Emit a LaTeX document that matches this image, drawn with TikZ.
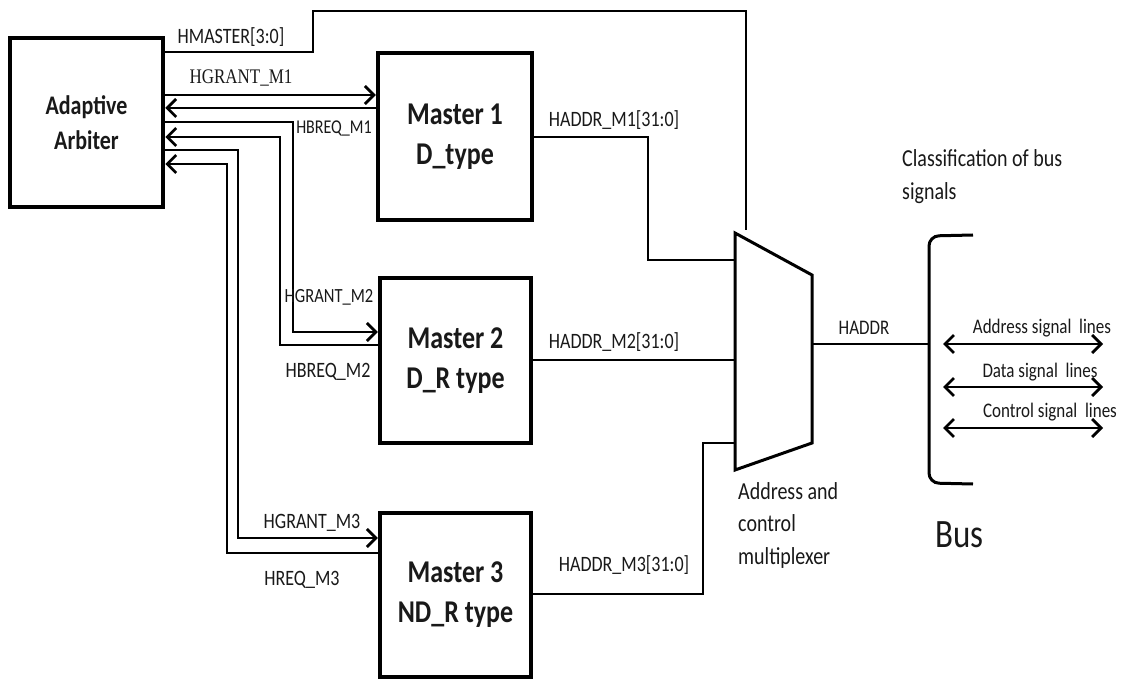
\documentclass[tikz,border=0pt]{standalone}
\usepackage{fontspec}
\setmainfont{Carlito}
\newfontfamily\serifl{Liberation Serif}
\usepackage{graphicx}
\usetikzlibrary{arrows.meta}
\newcommand\vs[1]{\scalebox{1}[1.22]{#1}}
\tikzset{
  box/.style={draw, line width=4.5pt, inner sep=0pt, align=center, font=\bfseries\fontsize{26}{40}\selectfont, text=black!90},
  sig/.style={line width=2.8pt},
  lbl/.style={inner sep=0pt, text=black!90, font=\fontsize{17}{20}\selectfont},
  >={Straight Barb[length=9pt,width=18pt]},
}
\begin{document}
\begin{tikzpicture}[x=1pt,y=-1pt]
\fill[white] (0,0) rectangle (1125,679);
\useasboundingbox (0,0) rectangle (1125,679);

% blocks
\node[box, minimum width=153pt, minimum height=169pt, font=\bfseries\fontsize{22}{35}\selectfont] (arb) at (86.5,122.5) {\vs{Adaptive}\\\vs{Arbiter}};
\node[box, minimum width=154pt, minimum height=167pt] (m1) at (455,136.5) {\vs{Master 1}\\\vs{D\_type}};
\node[box, minimum width=151pt, minimum height=165pt] (m2) at (455.5,360.5) {\vs{Master 2}\\\vs{D\_R type}};
\node[box, minimum width=151pt, minimum height=164pt] (m3) at (455.5,595) {\vs{Master 3}\\\vs{ND\_R type}};

% multiplexer
\coordinate (muxtl) at (735,233);
\coordinate (muxtr) at (812,275);
\coordinate (muxbr) at (812,443);
\coordinate (muxbl) at (735,470);
\draw[line width=3pt, line join=miter] (muxtl) -- (muxtr) -- (muxbr) -- (muxbl) -- cycle;
\coordinate (muxout) at (812,344);
\coordinate (muxtop) at (746,230);

% bus bracket
\coordinate (bt) at (973,235);
\coordinate (bb) at (973,484);
\coordinate (bmid) at (929,344);
\draw[line width=3pt, rounded corners=10pt] (bt) -- (929,236) -- (929,483) -- (bb);

% arbiter <-> masters
\draw[sig] (arb.east |- 0,52) -- (313,52) -- (313,11) -- (746,11) -- (muxtop);
\draw[sig,->] (arb.east |- 0,95) -- (m1.west |- 0,95);
\draw[sig,->] (m1.west |- 0,108) -- (arb.east |- 0,108);
\draw[sig,->] (arb.east |- 0,122) -- (293,122) -- (293,332) -- (m2.west |- 0,332);
\draw[sig,->] (m2.west |- 0,345) -- (280,345) -- (280,137) -- (arb.east |- 0,137);
\draw[sig,->] (arb.east |- 0,150) -- (238,150) -- (238,538) -- (m3.west |- 0,538);
\draw[sig,->] (m3.west |- 0,553) -- (227,553) -- (227,164) -- (arb.east |- 0,164);

% masters -> mux
\draw[sig] (m1.east |- 0,137) -- (648,137) -- (648,260) -- (muxtl |- 0,260);
\draw[sig] (m2.east |- 0,360) -- (muxtl |- 0,360);
\draw[sig] (m3.east |- 0,594) -- (703,594) -- (703,443) -- (muxtl |- 0,443);
\draw[sig] (muxout) -- (bmid);

% bus lines
\coordinate (a1) at (943,344); \coordinate (a2) at (1103,344);
\coordinate (d1) at (943,387); \coordinate (d2) at (1103,387);
\coordinate (c1) at (943,428); \coordinate (c2) at (1103,428);
\draw[sig,<->] (a1) -- (a2);
\draw[sig,<->] (d1) -- (d2);
\draw[sig,<->] (c1) -- (c2);

% labels
\node[lbl, font=\fontsize{18}{20}\selectfont] (lhm) at (231,37) {\vs{HMASTER[3:0]}};
\node[lbl, font=\serifl\fontsize{17}{20}\selectfont] (lg1) at (241,78) {\vs{HGRANT\_M1}};
\node[lbl, font=\fontsize{16}{20}\selectfont] (lr1) at (334,128) {\vs{HBREQ\_M1}};
\node[lbl, font=\fontsize{16.5}{20}\selectfont] (lg2) at (329,297) {\vs{HGRANT\_M2}};
\node[lbl, font=\fontsize{18}{20}\selectfont] (lr2) at (328,372) {\vs{HBREQ\_M2}};
\node[lbl, font=\fontsize{18}{20}\selectfont] (lg3) at (312,523) {\vs{HGRANT\_M3}};
\node[lbl, font=\fontsize{18}{20}\selectfont] (lr3) at (302,580) {\vs{HREQ\_M3}};
\node[lbl, font=\fontsize{18}{20}\selectfont] (la1) at (614,120) {\vs{HADDR\_M1[31:0]}};
\node[lbl, font=\fontsize{18}{20}\selectfont] (la2) at (614,342) {\vs{HADDR\_M2[31:0]}};
\node[lbl, font=\fontsize{18}{20}\selectfont] (la3) at (624,565) {\vs{HADDR\_M3[31:0]}};
\node[lbl] (lha) at (864,328) {\vs{HADDR}};
\node[lbl] (lasl) at (1042,328) {\vs{Address signal\ \ lines}};
\node[lbl] (ldsl) at (1040,372) {\vs{Data signal\ \ lines}};
\node[lbl] (lcsl) at (1050,412) {\vs{Control signal\ \ lines}};
\node[lbl, anchor=west, align=left, font=\fontsize{20}{33}\selectfont] (lcls) at (902,176.5) {\vs{Classification of bus}\\\vs{signals}};
\node[lbl, anchor=west, align=left, font=\fontsize{20}{32.5}\selectfont] (lmux) at (738,525) {\vs{Address and}\\\vs{control}\\\vs{multiplexer}};
\node[lbl, anchor=west, font=\fontsize{33}{36}\selectfont] (lbus) at (935,535) {\vs{Bus}};
\end{tikzpicture}
\end{document}
